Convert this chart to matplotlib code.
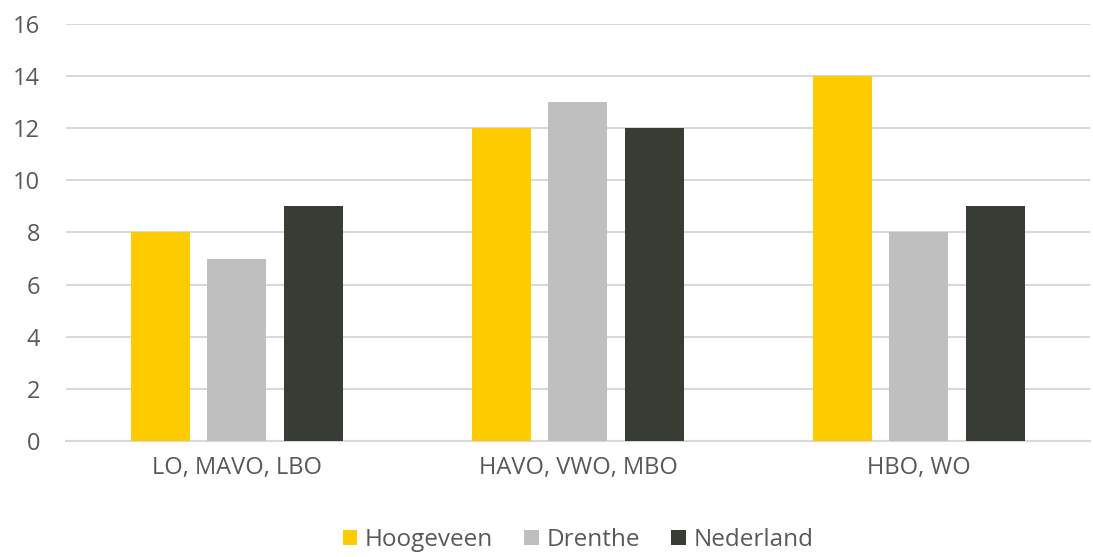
import matplotlib.pyplot as plt
import numpy as np

# Data
categories = ["LO, MAVO, LBO", "HAVO, VWO, MBO", "HBO, WO"]
series_names = ["Hoogeveen", "Drenthe", "Nederland"]
hoogeveen = [8, 12, 14]
drenthe = [7, 13, 8]
nederland = [9, 12, 9]
y_ticks = [0, 2, 4, 6, 8, 10, 12, 14, 16]

colors = ["#FFCC00", "#BFBFBF", "#373C35"]
text_color = "#595959"
grid_color = "#D9D9D9"

plt.rcParams['font.family'] = ['Open Sans', 'DejaVu Sans']

fig = plt.figure(figsize=(10.93, 5.57), dpi=100)
ax = fig.add_axes([0.0608, 0.2083, 0.9360, 0.7487])

x = np.arange(len(categories))
width = 0.173
step = 0.223
for i, (vals, name) in enumerate(zip([hoogeveen, drenthe, nederland], series_names)):
    ax.bar(x + (i - 1) * step, vals, width, color=colors[i], label=name, zorder=3)

ax.set_xlim(-0.5, len(categories) - 0.5)
ax.set_ylim(0, 16)
ax.set_yticks(y_ticks)
ax.set_xticks(x)
ax.set_xticklabels(categories)
ax.yaxis.grid(True, color=grid_color, linewidth=1.5, zorder=0)
ax.set_axisbelow(True)
for s in ["top", "right", "left"]:
    ax.spines[s].set_visible(False)
ax.spines["bottom"].set_color(grid_color)
ax.spines["bottom"].set_linewidth(1.5)
ax.tick_params(axis="both", length=0, colors=text_color, labelsize=17)
ax.tick_params(axis="x", pad=11)
ax.tick_params(axis="y", pad=19)

ax.legend(loc="center", bbox_to_anchor=(0.5, -0.237), ncol=3, frameon=False,
          fontsize=17.5, labelcolor=text_color, handlelength=0.6, handleheight=0.6,
          handletextpad=0.3, columnspacing=1.3)

fig.savefig("out.png", dpi=100)
